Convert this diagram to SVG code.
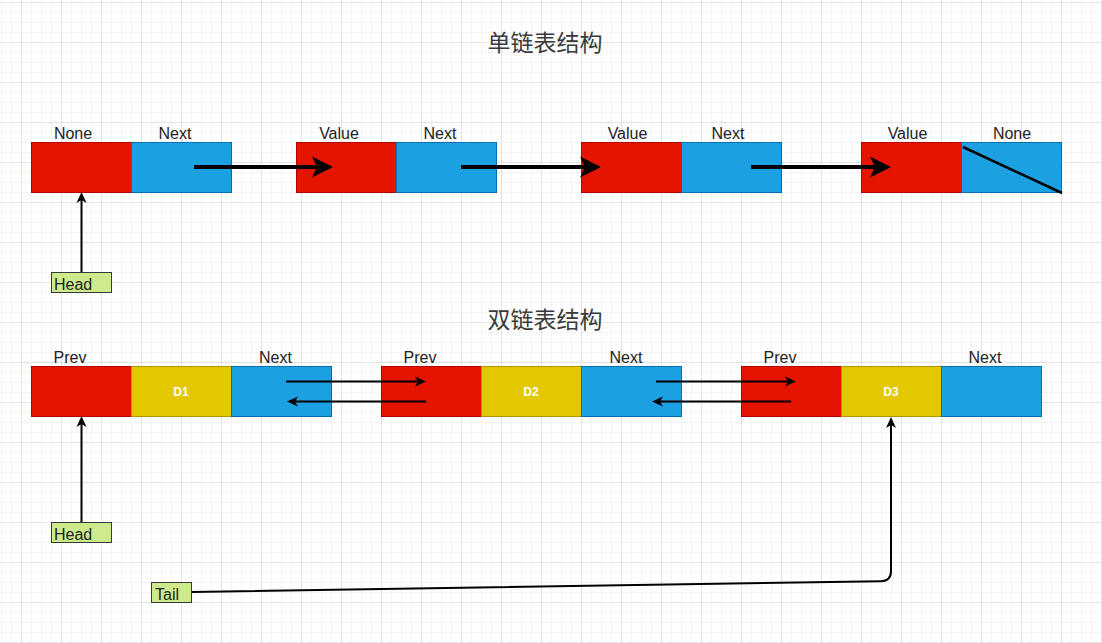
<svg xmlns="http://www.w3.org/2000/svg" width="1102" height="643" viewBox="0 0 1102 643">
<style>
.lbl{font-family:"Liberation Sans",Arial,sans-serif;font-size:16px;fill:#222;text-anchor:middle}
.ttl{font-family:"Liberation Sans","Noto Sans CJK SC",sans-serif;font-size:23px;fill:#3a3a3a;text-anchor:middle}
.dat{font-family:"Liberation Sans",Arial,sans-serif;font-size:12px;font-weight:bold;fill:#fff;text-anchor:middle}
.ptr{font-family:"Liberation Sans",Arial,sans-serif;font-size:16px;fill:#222}
.red{fill:#e51400;stroke:#b20000;stroke-width:1}
.blue{fill:#1ba1e2;stroke:#006eaf;stroke-width:1}
.yel{fill:#e3c800;stroke:#b09500;stroke-width:1}
.grn{fill:#cdeb8b;stroke:#36393d;stroke-width:1}
.thick{fill:none;stroke:#000;stroke-width:4}
.thin{fill:none;stroke:#000;stroke-width:2}
</style>
<defs>
<pattern id="grid" patternUnits="userSpaceOnUse" x="21" y="2" width="40" height="40">
<path d="M10.5,0V40M20.5,0V40M30.5,0V40M0,10.5H40M0,20.5H40M0,30.5H40" stroke="#f3f3f3" stroke-width="1" fill="none"/>
<path d="M0.5,0V40M0,0.5H40" stroke="#e3e3e3" stroke-width="1" fill="none"/>
</pattern>
<marker id="big" markerUnits="userSpaceOnUse" viewBox="0 0 22 22" markerWidth="22" markerHeight="22" refX="5" refY="11" orient="auto">
<path d="M0,0.5L21,11L0,21.5L5,11Z" fill="#000"/>
</marker>
<marker id="sm" markerUnits="userSpaceOnUse" viewBox="0 0 12 12" markerWidth="12" markerHeight="12" refX="3" refY="6" orient="auto">
<path d="M0,1L11,6L0,11L3,6Z" fill="#000"/>
</marker>
</defs>
<rect width="1102" height="643" fill="#fff"/>
<rect width="1102" height="643" fill="url(#grid)"/>

<text class="ttl" x="545" y="51">单链表结构</text>
<text class="ttl" x="545" y="328">双链表结构</text>

<g id="s1">
<rect class="red" x="31.5" y="142.5" width="100" height="50"/>
<rect class="blue" x="131.5" y="142.5" width="100" height="50"/>
<text class="lbl" x="73" y="139">None</text>
<text class="lbl" x="175" y="139">Next</text>
</g>
<g id="s2">
<rect class="red" x="296.5" y="142.5" width="100" height="50"/>
<rect class="blue" x="396.5" y="142.5" width="100" height="50"/>
<text class="lbl" x="339" y="139">Value</text>
<text class="lbl" x="440" y="139">Next</text>
</g>
<g id="s3">
<rect class="red" x="581.5" y="142.5" width="100" height="50"/>
<rect class="blue" x="681.5" y="142.5" width="100" height="50"/>
<text class="lbl" x="627.5" y="139">Value</text>
<text class="lbl" x="728" y="139">Next</text>
</g>
<g id="s4">
<rect class="red" x="861.5" y="142.5" width="100" height="50"/>
<rect class="blue" x="961.5" y="142.5" width="100" height="50"/>
<text class="lbl" x="907.5" y="139">Value</text>
<text class="lbl" x="1012" y="139">None</text>
<line x1="963" y1="147" x2="1062" y2="193" stroke="#000" stroke-width="2.5"/>
</g>

<g id="d1">
<rect class="red" x="31.5" y="366.5" width="100" height="50"/>
<rect class="yel" x="131.5" y="366.5" width="100" height="50"/>
<rect class="blue" x="231.5" y="366.5" width="100" height="50"/>
<text class="lbl" x="70" y="363">Prev</text>
<text class="lbl" x="275.5" y="363">Next</text>
<text class="dat" x="181" y="396">D1</text>
</g>
<g id="d2">
<rect class="red" x="381.5" y="366.5" width="100" height="50"/>
<rect class="yel" x="481.5" y="366.5" width="100" height="50"/>
<rect class="blue" x="581.5" y="366.5" width="100" height="50"/>
<text class="lbl" x="420" y="363">Prev</text>
<text class="lbl" x="626" y="363">Next</text>
<text class="dat" x="531" y="396">D2</text>
</g>
<g id="d3">
<rect class="red" x="741.5" y="366.5" width="100" height="50"/>
<rect class="yel" x="841.5" y="366.5" width="100" height="50"/>
<rect class="blue" x="941.5" y="366.5" width="100" height="50"/>
<text class="lbl" x="780" y="363">Prev</text>
<text class="lbl" x="985" y="363">Next</text>
<text class="dat" x="891" y="396">D3</text>
</g>

<g id="head1">
<rect class="grn" x="51.5" y="272.5" width="60" height="20"/>
<text class="ptr" x="54" y="289.5">Head</text>
</g>
<g id="head2">
<rect class="grn" x="51.5" y="522.5" width="60" height="20"/>
<text class="ptr" x="54" y="539.5">Head</text>
</g>
<g id="tail">
<rect class="grn" x="151.5" y="582.5" width="40" height="20"/>
<text class="ptr" x="155" y="599.5">Tail</text>
</g>

<g id="connectors">
<line class="thick" x1="194" y1="167" x2="317" y2="167" marker-end="url(#big)"/>
<line class="thick" x1="461" y1="167" x2="585" y2="167" marker-end="url(#big)"/>
<line class="thick" x1="751" y1="167" x2="875" y2="167" marker-end="url(#big)"/>
<line class="thin" x1="81.5" y1="272" x2="81.5" y2="200" marker-end="url(#sm)"/>
<line class="thin" x1="286" y1="381.5" x2="418" y2="381.5" marker-end="url(#sm)"/>
<line class="thin" x1="426" y1="401.5" x2="295" y2="401.5" marker-end="url(#sm)"/>
<line class="thin" x1="656" y1="381.5" x2="788" y2="381.5" marker-end="url(#sm)"/>
<line class="thin" x1="791" y1="401.5" x2="660" y2="401.5" marker-end="url(#sm)"/>
<line class="thin" x1="81.5" y1="522" x2="81.5" y2="424" marker-end="url(#sm)"/>
<path class="thin" d="M192,592 L881,581.2 Q891,581 891,571 L891,425" marker-end="url(#sm)"/>
</g>
</svg>
